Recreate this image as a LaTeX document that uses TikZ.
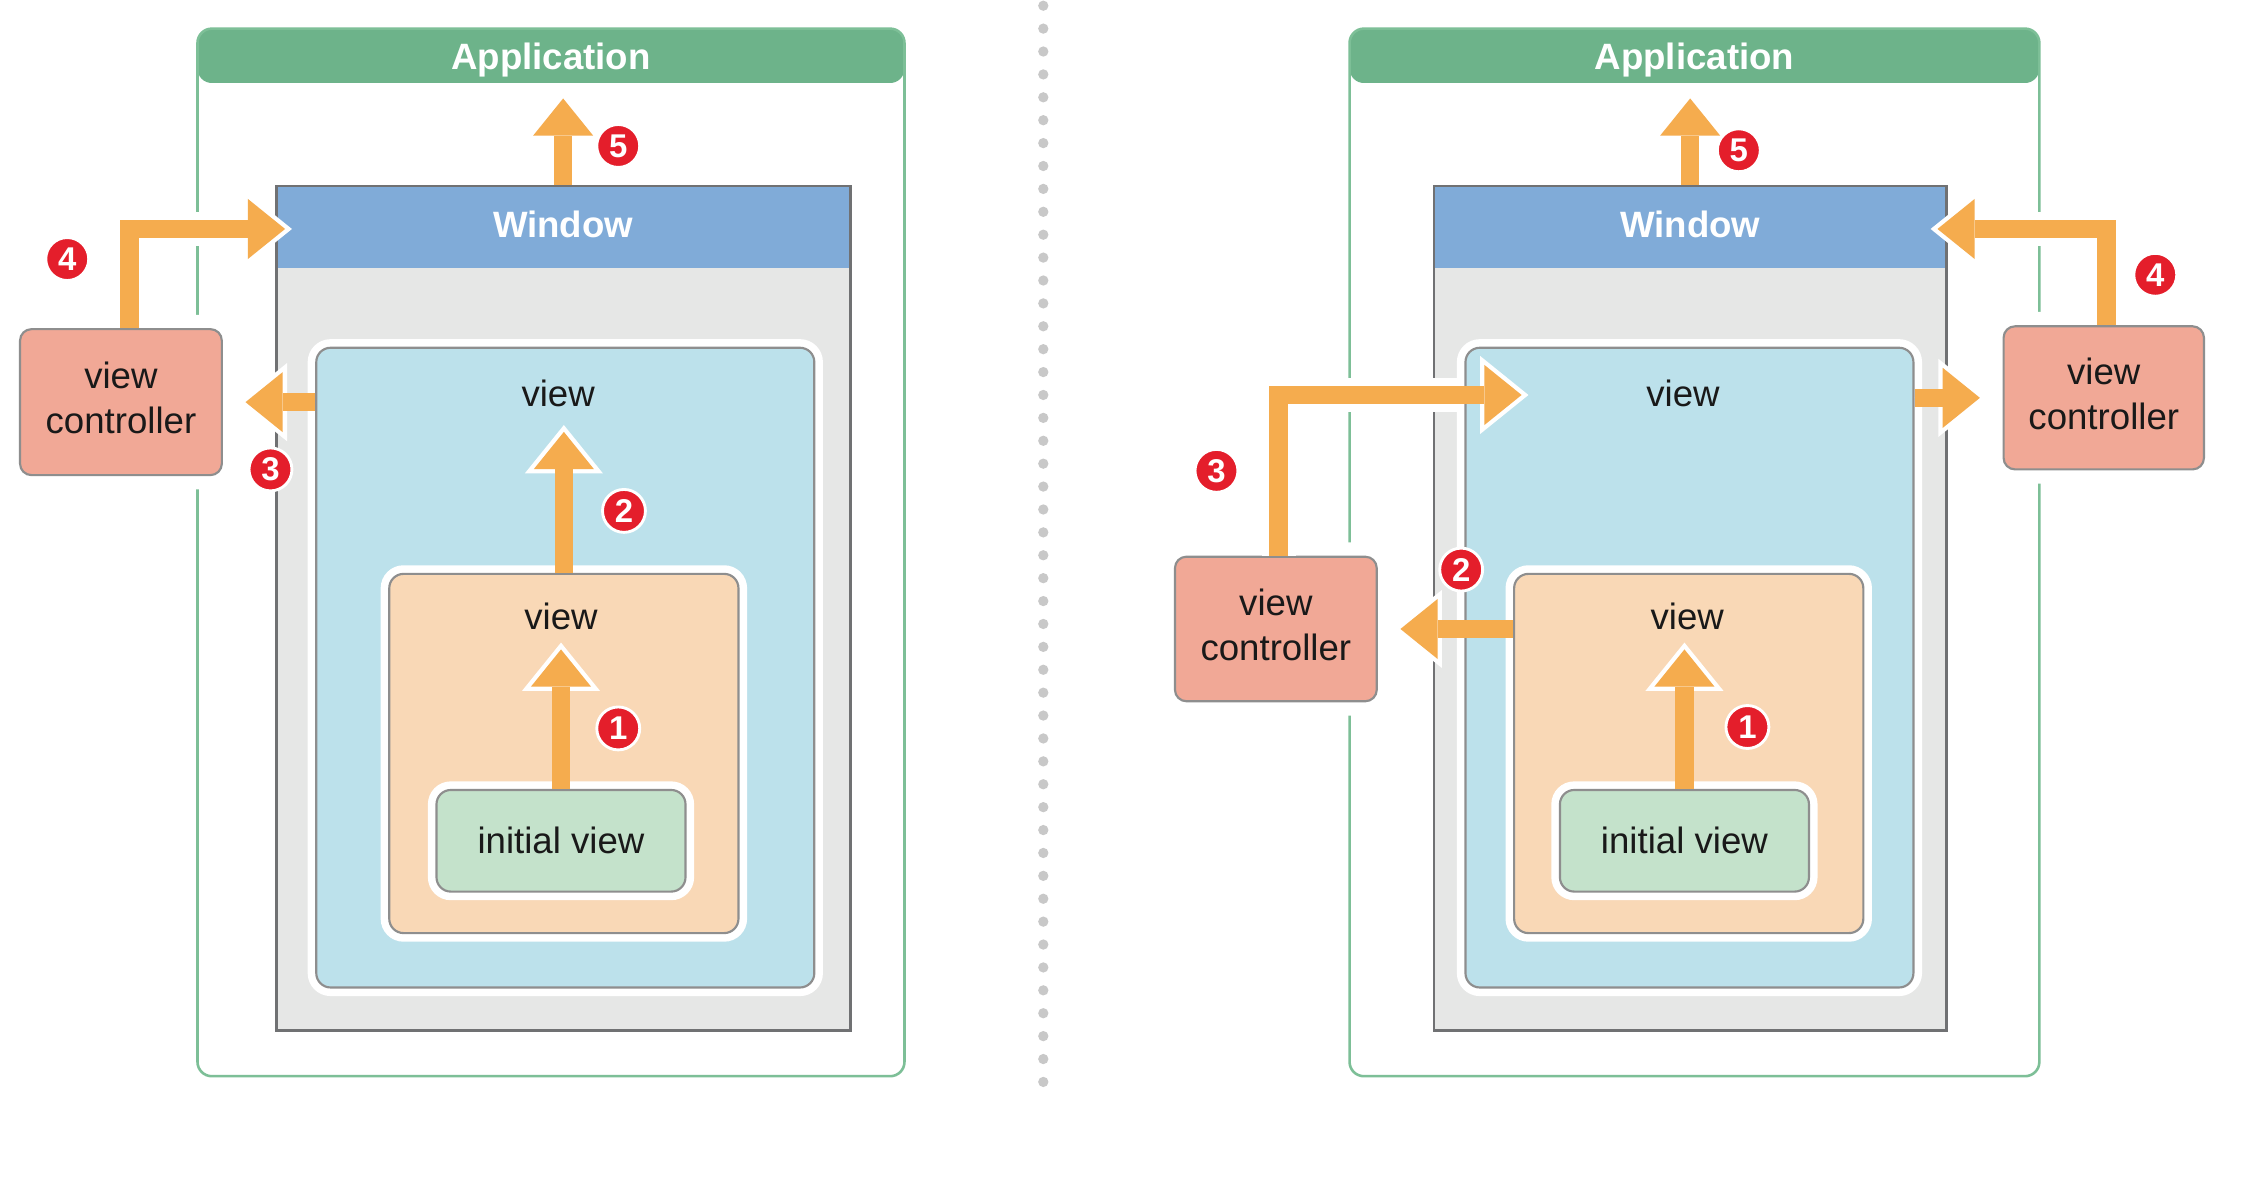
\documentclass[tikz,border=0pt]{standalone}
\usepackage{fontspec}
\setmainfont{Liberation Sans}
\usetikzlibrary{arrows.meta}
\definecolor{appgreen}{HTML}{6DB38A}
\definecolor{appline}{HTML}{7DBF97}
\definecolor{winblue}{HTML}{80ABD8}
\definecolor{wingray}{HTML}{E6E7E6}
\definecolor{winline}{HTML}{707173}
\definecolor{viewblue}{HTML}{BCE1EB}
\definecolor{vieworange}{HTML}{F9D8B6}
\definecolor{initgreen}{HTML}{C4E2CB}
\definecolor{vcred}{HTML}{F1A896}
\definecolor{boxline}{HTML}{8E8E8E}
\definecolor{flowcol}{HTML}{F5AC4E}
\definecolor{badgered}{HTML}{E41E2B}
\definecolor{dotgray}{HTML}{C8C8C8}
\newcommand{\tip}{-{Triangle[width=21pt,length=13pt,line width=0pt]}}
\newcommand{\halotip}{-{Triangle[width=27.3pt,length=16.9pt,line width=0pt]}}

\tikzset{
  appbox/.style={draw=appline, line width=0.9pt, fill=white, rounded corners=5pt, inner sep=0pt,
    path picture={\fill[appgreen] (path picture bounding box.north west) rectangle ([yshift=-19pt]path picture bounding box.north east);}},
  winbox/.style={draw=winline, line width=1pt, fill=wingray, inner sep=0pt,
    path picture={\fill[winblue] (path picture bounding box.north west) rectangle ([yshift=-28.5pt]path picture bounding box.north east);}},
  box/.style={draw=boxline, line width=0.75pt, rounded corners=5pt, inner sep=0pt},
  rimbox/.style={box, preaction={draw=white, line width=6pt}},
  vcbox/.style={box, fill=vcred, rounded corners=4pt, preaction={draw=white, line width=10pt},
    font=\fontsize{12.8}{15.5}\selectfont, align=center, text=black!90, text depth=3pt},
  title/.style={text=white, font=\fontsize{12.8}{15}\selectfont\bfseries},
  lbl/.style={text=black!90, font=\fontsize{12.8}{15}\selectfont},
  badge/.style={circle, fill=badgered, draw=white, line width=1pt, minimum size=15pt, inner sep=0pt,
    text=white, font=\fontsize{11.5}{11.5}\selectfont\bfseries},
  flowhalo/.style={draw=white, line width=12pt, shorten >=13pt},
  flow/.style={flowcol, line width=6.5pt, \tip, shorten >=2.4pt,
    preaction={draw=white, \halotip, shorten >=0pt}},
  divider/.style={dotgray, line width=3.6pt, line cap=round, dash pattern=on 0pt off 8pt}
}

\begin{document}
\begin{tikzpicture}[x=0.5pt,y=-0.5pt]
\useasboundingbox (0,0) rectangle (1568,839);
% application and window frames
\node[appbox, minimum width=247pt, minimum height=366pt] (appL) at (385,386) {};
\node[appbox, minimum width=241pt, minimum height=366pt] (appR) at (1184,386) {};
\node[title] (titleL) at (385,42) {Application};
\node[title] (titleR) at (1184,42) {Application};
\node[winbox, minimum width=200.5pt, minimum height=295pt] (winL) at (393.5,425) {};
\node[winbox, minimum width=179pt, minimum height=295pt] (winR) at (1181,425) {};
\node[title] (wtxtL) at (393.5,157) {Window};
\node[title] (wtxtR) at (1181,157) {Window};
\draw[divider] (729,4) -- (729,770);

% arrow end points
\coordinate (a5L) at (393.5,64);
\coordinate (a4L) at (204,160);
\coordinate (a2L) at (394,297);
\coordinate (a1L) at (392,449);
\coordinate (a5R) at (1181,64);
\coordinate (a4R) at (1349,160);
\coordinate (a3R) at (1068,276);
\coordinate (a1R) at (1177,449);

% view controllers
\node[vcbox, minimum width=70.5pt, minimum height=51pt] (vcL) at (84.5,281) {view\\controller};
\node[vcbox, minimum width=70pt, minimum height=50pt] (vcRa) at (1470,278) {view\\controller};
\node[vcbox, minimum width=70.5pt, minimum height=50.5pt] (vcRb) at (891.5,439.5) {view\\controller};

% white gaps under the shafts
\draw[flowhalo] ([xshift=3pt]vcL.north) |- (a4L);
\draw[flowhalo] (winL.west |- vcL.east) -- ([xshift=5.5pt]vcL.east);
\draw[flowhalo] ([xshift=1pt]vcRa.north) |- (a4R);
\draw[flowhalo] ([xshift=1pt]vcRb.north) |- (a3R);
\draw[flowhalo] (winR.east |- vcRa.west) -- ([xshift=-5.5pt]vcRa.west);
\draw[flowhalo] (winR.west |- vcRb.east) -- ([xshift=5.5pt]vcRb.east);

% nested views
\node[rimbox, fill=viewblue, minimum width=174pt, minimum height=223.5pt] (blueL) at (395,466.5) {};
\node[rimbox, fill=vieworange, minimum width=122pt, minimum height=125.5pt] (orangeL) at (394,526.5) {};
\node[rimbox, fill=initgreen, minimum width=87pt, minimum height=35.5pt] (initL) at (392,587.5) {};
\node[rimbox, fill=viewblue, minimum width=156.5pt, minimum height=223.5pt] (blueR) at (1180.5,466.5) {};
\node[rimbox, fill=vieworange, minimum width=122pt, minimum height=125.5pt] (orangeR) at (1180,526.5) {};
\node[rimbox, fill=initgreen, minimum width=87pt, minimum height=35.5pt] (initR) at (1177,587.5) {};
\node[lbl] (vtxtL) at (390,275) {view};
\node[lbl] (otxtL) at (392,431) {view};
\node[lbl] (itxtL) at (initL) {initial view};
\node[lbl] (vtxtR) at (1176,275) {view};
\node[lbl] (otxtR) at (1179,431) {view};
\node[lbl] (itxtR) at (initR) {initial view};

% left: responder chain
\draw[flow] (initL.north) -- (a1L);
\draw[flow] (orangeL.north) -- (a2L);
\draw[flow] (blueL.west |- vcL.east) -- ([xshift=5.5pt]vcL.east);
\draw[flow] ([xshift=3pt]vcL.north) |- (a4L);
\draw[flow] (winL.north) -- (a5L);
% right: responder chain
\draw[flow] (initR.north) -- (a1R);
\draw[flow] (orangeR.west |- vcRb.east) -- ([xshift=5.5pt]vcRb.east);
\draw[flow] ([xshift=1pt]vcRb.north) |- (a3R);
\draw[flow] (blueR.east |- vcRa.west) -- ([xshift=-5.5pt]vcRa.west);
\draw[flow] ([xshift=1pt]vcRa.north) |- (a4R);
\draw[flow] (winR.north) -- (a5R);

% step numbers
\node[badge] (b1L) at (432,509) {1};
\node[badge] (b2L) at (436,357) {2};
\node[badge] (b3L) at (189,328) {3};
\node[badge] (b4L) at (47,181) {4};
\node[badge] (b5L) at (432,102) {5};
\node[badge] (b1R) at (1221,508) {1};
\node[badge] (b2R) at (1021,398) {2};
\node[badge] (b3R) at (850,329) {3};
\node[badge] (b4R) at (1506,192) {4};
\node[badge] (b5R) at (1215,105) {5};
\end{tikzpicture}
\end{document}
